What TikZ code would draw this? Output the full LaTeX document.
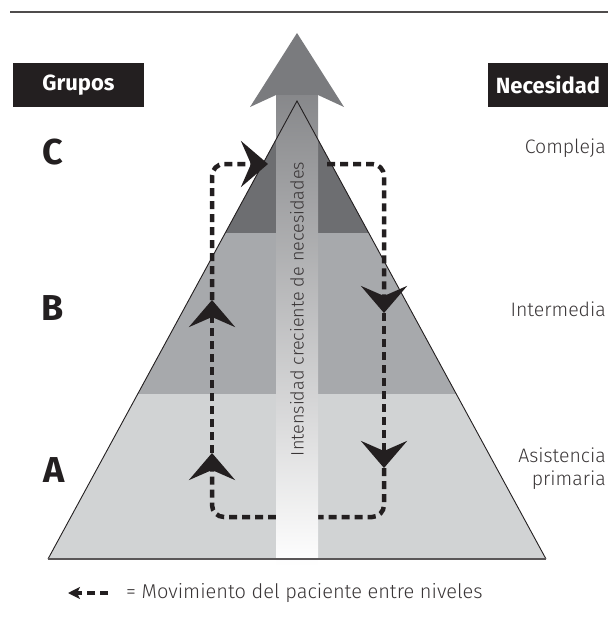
\documentclass[tikz,border=0pt]{standalone}
\usepackage{fontspec}
\setmainfont{Fira Sans}
\newfontfamily\lightfont{Fira Sans Light}
\usepackage{tikz}
\usetikzlibrary{arrows.meta,positioning}
\definecolor{bandC}{HTML}{6D6E71}
\definecolor{bandB}{HTML}{A7A9AC}
\definecolor{bandA}{HTML}{D1D3D4}
\definecolor{headgray}{HTML}{7A7B7E}
\definecolor{boxblack}{HTML}{231F20}
\tikzset{
  hdrbox/.style={fill=boxblack, text=white, font=\bfseries\fontsize{22}{26}\selectfont, minimum height=44pt, inner sep=0pt},
  grplabel/.style={font=\bfseries\fontsize{36}{40}\selectfont, text=boxblack},
  needlabel/.style={font=\lightfont\fontsize{19.5}{23}\selectfont, text=boxblack!90, align=right, anchor=east, inner sep=0pt},
  moveline/.style={line width=4.5pt, dash pattern=on 8pt off 5pt, draw=boxblack},
  movetip/.style={-{Stealth[length=27pt, width=46pt, inset=10pt]}},
  legtext/.style={font=\lightfont\fontsize{20}{24}\selectfont, text=boxblack!90, inner sep=0pt, anchor=west}
}

\begin{document}
\begin{tikzpicture}[x=1pt, y=-1pt]
\useasboundingbox (0,0) rectangle (608,618);
% rule on top
\draw[line width=1.5pt, boxblack!80] (10,12) -- (608,12);

% pyramid corners
\coordinate (apex) at (297,101);
\coordinate (baseL) at (48,559);
\coordinate (baseR) at (546,559);

% head of the big arrow
\fill[headgray] (297,33) -- (344,107) -- (318,95) -- (276,95) -- (250,107) -- cycle;

% pyramid bands
\fill[bandA] (apex) -- (baseR) -- (baseL) -- cycle;
\begin{scope}
  \clip (apex) -- (baseR) -- (baseL) -- cycle;
  \fill[bandB] (0,90) rectangle (608,394);
  \fill[bandC] (0,90) rectangle (608,233);
\end{scope}

% movement between levels
\coordinate (lb) at (276,517);
\coordinate (rb) at (318,517);
\coordinate (up1) at (212,453);
\coordinate (up2) at (212,300);
\coordinate (topL) at (268,164);
\coordinate (topR) at (327,164);
\coordinate (dn1) at (384,313);
\coordinate (dn2) at (384,468);
\draw[moveline, movetip, rounded corners=12pt] (lb) -- (212,517) -- (up1);
\draw[moveline, movetip] (up1) -- (up2);
\draw[moveline, movetip, rounded corners=12pt] (up2) -- (212,164) -- (topL);
\draw[moveline, movetip, rounded corners=12pt] (topR) -- (384,164) -- (dn1);
\draw[moveline, movetip] (dn1) -- (dn2);
\draw[moveline, rounded corners=12pt] (dn2) -- (384,517) -- (rb);

% shaft of the big arrow
\shade[top color=headgray!90!white, bottom color=white] (276,95) rectangle (318,566);

% outline
\draw[line width=0.9pt, boxblack] (baseL) -- (apex) -- (baseR);
\draw[line width=2pt, boxblack!75] (baseL) -- (baseR);

\node[rotate=90, font=\lightfont\fontsize{18}{22}\selectfont, text=boxblack!90] (intens) at (297,309) {Intensidad creciente de necesidades};

% headers
\node[hdrbox, minimum width=131pt] (grupos) at (78.5,85) {Grupos};
\node[hdrbox, minimum width=120pt] (necesidad) at (548,85) {Necesidad};

% groups
\node[grplabel] (grpC) at (53,152) {C};
\node[grplabel] (grpB) at (53,308) {B};
\node[grplabel] (grpA) at (54,470) {A};

% needs
\node[needlabel] (needC) at (606,148) {Compleja};
\node[needlabel] (needB) at (606,309) {Intermedia};
\node[needlabel] (needA) at (606,469) {Asistencia\\primaria};

% legend
\coordinate (legL) at (68,593);
\coordinate (legR) at (108,593);
\draw[line width=4.5pt, dash pattern=on 8pt off 5pt, boxblack, -{Stealth[length=12pt, width=12pt, inset=3pt]}] (legR) -- (legL);
\node[legtext, right=18pt of legR] (legend) {= Movimiento del paciente entre niveles};
\end{tikzpicture}
\end{document}
